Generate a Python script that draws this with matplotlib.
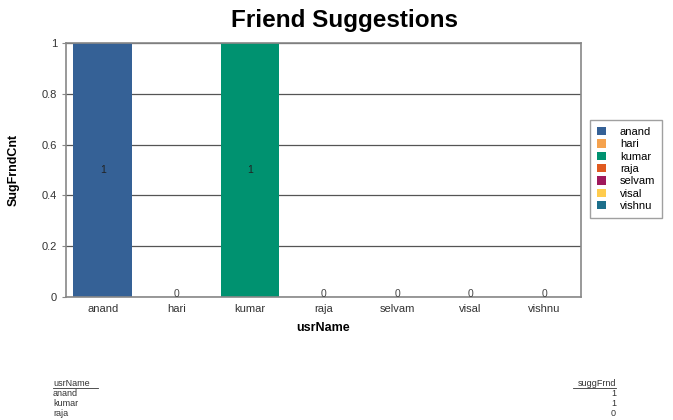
import matplotlib
matplotlib.use("Agg")
import matplotlib.pyplot as plt
import numpy as np

plt.rcParams["font.family"] = ["Liberation Sans", "DejaVu Sans"]

# chart data
usr_names = ["anand", "hari", "kumar", "raja", "selvam", "visal", "vishnu"]
sugg_counts = [1, 0, 1, 0, 0, 0, 0]
bar_colors = ["#356196", "#F5A24E", "#009270", "#E05A20", "#A0195C", "#FFCC4E", "#1D6F8B"]

# table under the chart
table_names = ["anand", "kumar", "raja"]
table_values = [1, 1, 0]

W, H = 673, 420
fig = plt.figure(figsize=(W / 100, H / 100), dpi=100)
ax = fig.add_axes([66 / W, 1 - 297 / H, (581 - 66) / W, (297 - 43) / H])

x = np.arange(len(usr_names))
bars = ax.bar(x, sugg_counts, width=0.8, color=bar_colors, label=usr_names, zorder=2)

for xi, v in zip(x, sugg_counts):
    if v > 0:
        ax.text(xi, v / 2, str(v), ha="center", va="center", fontsize=7.5, color="#222222", zorder=3)
    else:
        ax.text(xi, 0.01, str(v), ha="center", va="center", fontsize=7.5, color="#444444", zorder=3)

ax.set_xlim(-0.5, len(usr_names) - 0.5)
ax.set_ylim(0, 1)
ax.set_yticks([0, 0.2, 0.4, 0.6, 0.8, 1])
ax.set_yticklabels(["0", "0.2", "0.4", "0.6", "0.8", "1"])
ax.set_xticks(x)
ax.set_xticklabels(usr_names)
ax.tick_params(axis="both", labelsize=8, colors="#333333", length=3, color="#888888")
ax.tick_params(axis="x", length=0, pad=5)
ax.grid(True, axis="y", color="#555555", linewidth=0.9, zorder=1)
for s in ax.spines.values():
    s.set_color("#888888")
    s.set_linewidth(1.2)

ax.set_xlabel("usrName", fontsize=9, fontweight="bold", labelpad=6)
ax.set_ylabel("SugFrndCnt", fontsize=9, fontweight="bold", labelpad=16)
fig.text(345 / W, 1 - 20 / H, "Friend Suggestions", ha="center", va="center",
         fontsize=17.5, fontweight="bold")

leg = ax.legend(handles=list(bars), labels=usr_names, loc="center left",
                bbox_to_anchor=(590 / W, 1 - 169 / H), bbox_transform=fig.transFigure,
                borderaxespad=0, fontsize=8, frameon=True, fancybox=False,
                handlelength=0.8, handleheight=0.8, handletextpad=1.3,
                labelspacing=0.2, borderpad=0.6)
leg.get_frame().set_edgecolor("#888888")
leg.get_frame().set_linewidth(1.0)

# data table
fs = 6.5
fig.text(53 / W, 1 - 383 / H, "usrName", fontsize=fs, ha="left", va="center", color="#333333")
fig.text(616 / W, 1 - 383 / H, "suggFrnd", fontsize=fs, ha="right", va="center", color="#333333")
fig.add_artist(plt.Line2D([53 / W, 98 / W], [1 - 388 / H] * 2, color="#333333", linewidth=0.6))
fig.add_artist(plt.Line2D([573 / W, 616 / W], [1 - 388 / H] * 2, color="#333333", linewidth=0.6))
for i, (n, v) in enumerate(zip(table_names, table_values)):
    y = 1 - (393.5 + 10 * i) / H
    fig.text(53 / W, y, n, fontsize=fs, ha="left", va="center", color="#333333")
    fig.text(616 / W, y, str(v), fontsize=fs, ha="right", va="center", color="#333333")

fig.savefig("out.png", dpi=100)
